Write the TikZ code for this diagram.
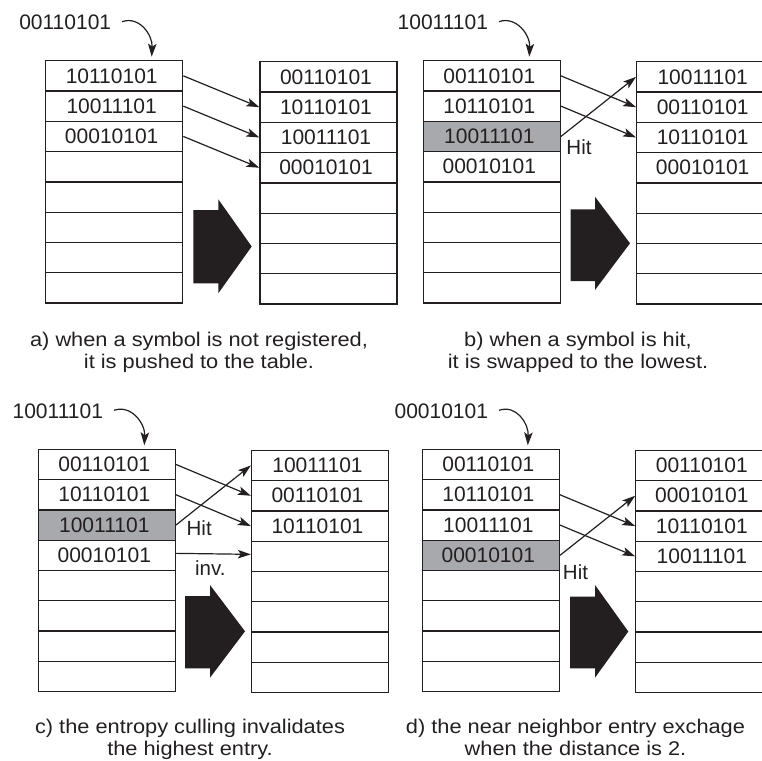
\documentclass[tikz,border=0pt]{standalone}
\usepackage{fontspec}
\setmainfont{Liberation Sans}
\newfontfamily\capfont[FakeStretch=1.1]{Liberation Sans}
\usetikzlibrary{arrows.meta}
\definecolor{ink}{RGB}{35,31,32}
\definecolor{hitgray}{RGB}{167,169,172}
\begin{document}
\begin{tikzpicture}[x=1pt,y=-1pt,
  cell/.style={draw=ink,line width=1.3pt,rectangle,minimum width=137pt,minimum height=30.3pt,inner sep=0pt,text=ink,font=\fontsize{21}{21}\selectfont,execute at end node={\hspace*{5pt}}},
  hitcell/.style={fill=hitgray},
  conn/.style={draw=ink,line width=1.2pt,-{Stealth[length=13pt,width=8.5pt,inset=3pt]}},
  bigarrow/.style={fill=ink},
  toplabel/.style={text=ink,inner sep=0pt,font=\fontsize{21}{21}\selectfont},
  note/.style={text=ink,inner sep=0pt,font=\fontsize{20.5}{20.5}\selectfont},
  caption/.style={text=ink,inner sep=0pt,anchor=base,font=\capfont\fontsize{19.8}{19.8}\selectfont}]

\path[use as bounding box, clip] (0,0) rectangle (762,760);

% ---------------- panel a ----------------
\foreach \i/\t/\s in {0/10110101/,1/10011101/,2/00010101/,3///,4///,5///,6///,7///}
  \node[cell,\s] (aL\i) at (114.2,{75.85+30.3*\i}) {\t};
\foreach \i/\t in {0/00110101,1/10110101,2/10011101,3/00010101,4/,5/,6/,7/}
  \node[cell] (aR\i) at (328.5,{76.85+30.3*\i}) {\t};
\node[toplabel] (aLab) at (65.2,22.7) {00110101};
\coordinate (aTip) at (151.7,56.7);
\draw[conn] ([xshift=10.8pt,yshift=1pt]aLab.east) .. controls +(17,-6) and +(1,-22) .. (aTip);
\draw[conn] (aL0.east) -- (aR1.west);
\draw[conn] (aL1.east) -- (aR2.west);
\draw[conn] (aL2.east) -- (aR3.west);
\fill[bigarrow] (193.3,210) -- (218.3,210) -- (218.3,199.3) -- (251.7,246.5) -- (218.3,293.3) -- (218.3,283.3) -- (193.3,283.3) -- cycle;
\node[caption] (capA1) at (199,346) {a) when a symbol is not registered,};
\node[caption] (capA2) at (199,368) {it is pushed to the table.};

% ---------------- panel b ----------------
\foreach \i/\t/\s in {0/00110101/,1/10110101/,2/10011101/hitcell,3/00010101/,4///,5///,6///,7///}
  \node[cell,\s] (bL\i) at (491.8,{75.85+30.3*\i}) {\t};
\foreach \i/\t in {0/10011101,1/00110101,2/10110101,3/00010101,4/,5/,6/,7/}
  \node[cell] (bR\i) at (705.2,{76.85+30.3*\i}) {\t};
\node[toplabel] (bLab) at (442.8,22.7) {10011101};
\coordinate (bTip) at (529.3,56.7);
\draw[conn] ([xshift=10.8pt,yshift=1pt]bLab.east) .. controls +(17,-6) and +(1,-22) .. (bTip);
\draw[conn] (bL0.east) -- (bR1.west);
\draw[conn] (bL1.east) -- (bR2.west);
\draw[conn] (bL2.east) -- (bR0.west);
\node[note] (bHit) at (579,146.7) {Hit};
\fill[bigarrow] (570.7,209.3) -- (595,209.3) -- (595,196.7) -- (630,243.3) -- (595,290) -- (595,281) -- (570.7,281) -- cycle;
\node[caption] (capB1) at (578,346) {b) when a symbol is hit,};
\node[caption] (capB2) at (578,368) {it is swapped to the lowest.};

% ---------------- panel c ----------------
\foreach \i/\t/\s in {0/00110101/,1/10110101/,2/10011101/hitcell,3/00010101/,4///,5///,6///,7///}
  \node[cell,\s] (cL\i) at (106.8,{464.45+30.3*\i}) {\t};
\foreach \i/\t in {0/10011101,1/00110101,2/10110101,3/,4/,5/,6/,7/}
  \node[cell] (cR\i) at (320,{465.45+30.3*\i}) {\t};
\node[toplabel] (cLab) at (57.8,411.3) {10011101};
\coordinate (cTip) at (144.3,445.3);
\draw[conn] ([xshift=10.8pt,yshift=1pt]cLab.east) .. controls +(17,-6) and +(1,-22) .. (cTip);
\draw[conn] (cL0.east) -- (cR1.west);
\draw[conn] (cL1.east) -- (cR2.west);
\draw[conn] (cL2.east) -- (cR0.west);
\draw[conn] ([yshift=2pt]cL3.east) -- ([yshift=2pt]cR3.west);
\node[note] (cHit) at (199.2,528.3) {Hit};
\node[note] (cInv) at (210.3,568) {inv.};
\fill[bigarrow] (185,596) -- (210,596) -- (210,585) -- (245,631.3) -- (210,677.7) -- (210,668.3) -- (185,668.3) -- cycle;
\node[caption] (capC1) at (190,733) {c) the entropy culling invalidates};
\node[caption] (capC2) at (190,755.5) {the highest entry.};

% ---------------- panel d ----------------
\foreach \i/\t/\s in {0/00110101/,1/10110101/,2/10011101/,3/00010101/hitcell,4///,5///,6///,7///}
  \node[cell,\s] (dL\i) at (490.8,{464.45+30.3*\i}) {\t};
\foreach \i/\t in {0/00110101,1/00010101,2/10110101,3/10011101,4/,5/,6/,7/}
  \node[cell] (dR\i) at (704.3,{465.45+30.3*\i}) {\t};
\node[toplabel] (dLab) at (441.3,411.3) {00010101};
\coordinate (dTip) at (527.8,445.3);
\draw[conn] ([xshift=10.8pt,yshift=1pt]dLab.east) .. controls +(17,-6) and +(1,-22) .. (dTip);
\draw[conn] (dL1.east) -- (dR2.west);
\draw[conn] (dL2.east) -- (dR3.west);
\draw[conn] (dL3.east) -- (dR1.west);
\node[note] (dHit) at (575.5,571.7) {Hit};
\fill[bigarrow] (570,596.7) -- (595,596.7) -- (595,585) -- (628.3,631.5) -- (595,677.7) -- (595,668.3) -- (570,668.3) -- cycle;
\node[caption] (capD1) at (575.5,733) {d) the near neighbor entry exchage};
\node[caption] (capD2) at (575.5,755.5) {when the distance is 2.};
\end{tikzpicture}
\end{document}
